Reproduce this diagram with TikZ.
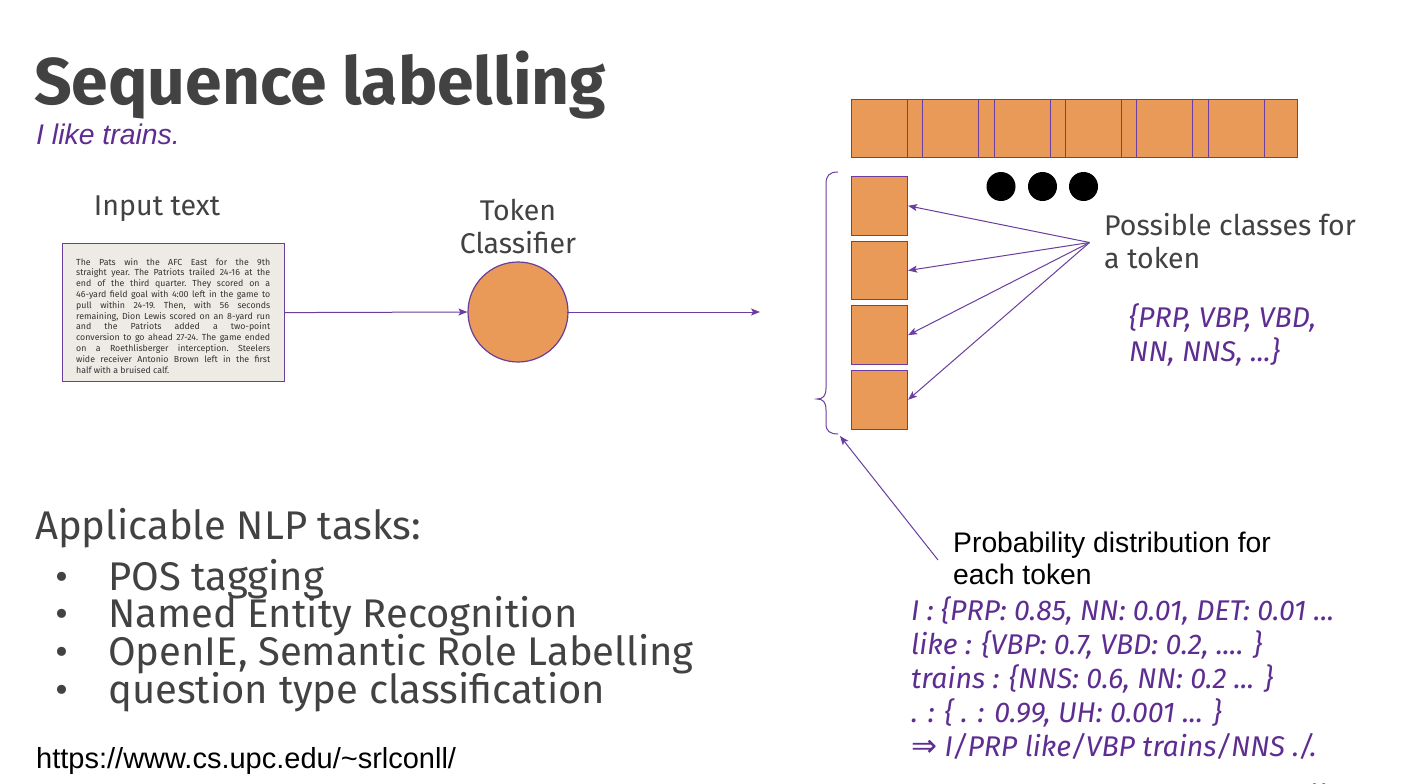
\documentclass[tikz,border=0pt]{standalone}
\usepackage{fontspec}
\setmainfont{Fira Sans}
\newfontfamily\arialf{Liberation Sans}
\newfontfamily\djv{DejaVu Sans}
\usetikzlibrary{arrows.meta}
\definecolor{pur}{HTML}{5E2D91}
\definecolor{ln}{HTML}{6A3D9E}
\definecolor{org}{HTML}{E99A58}
\definecolor{txt}{HTML}{424242}
\definecolor{paper}{HTML}{EEEBE4}
\newcommand{\fsz}[2]{\fontsize{#1}{#2}\selectfont}
\begin{document}
\begin{tikzpicture}[x=1pt,y=-1pt,
  sq/.style={draw=ln, line width=1.1pt, fill=org, minimum width=56pt, minimum height=58pt, inner sep=0pt, anchor=north west},
  arr/.style={draw=ln, line width=1pt, -{Stealth[length=9pt,width=7pt,inset=2pt]}},
  lbl/.style={inner sep=0pt, anchor=base west, text=txt},
  plbl/.style={inner sep=0pt, anchor=base west, text=pur, font=\fsz{28.5}{28.5}\itshape},
  dot/.style={circle, fill=black, minimum size=29pt, inner sep=0pt}]
\useasboundingbox[fill=white] (0,0) rectangle (1406,784);

% title
\node[lbl, font=\fsz{66}{66}\bfseries] (title) at (34,104) {Sequence labelling};
\node[inner sep=0pt, anchor=base west, text=pur, font=\arialf\fsz{28.4}{28.4}\itshape] (sent) at (36,144) {I like trains.};

% input text
\node[inner sep=0pt, anchor=base, text=txt, font=\fsz{28.6}{28.6}] (inlbl) at (157,215) {Input text};
\node[draw=ln, line width=1.2pt, fill=paper, minimum width=222pt, minimum height=138pt,
      inner sep=0pt, anchor=north west] (doc) at (62,243) {};
\node[text width=194pt, inner sep=0pt, anchor=north west, align=justify, text=black!80,
      font=\fsz{8.8}{10.8}] (doctxt) at (76,258)
{\frenchspacing\tolerance=10000\hbadness=10000 The Pats win the AFC East for the 9th\linebreak
straight year. The Patriots trailed 24-16 at the\linebreak
end of the third quarter. They scored on a\linebreak
46-yard field goal with 4:00 left in the game to\linebreak
pull within 24-19. Then, with 56 seconds\linebreak
remaining, Dion Lewis scored on an 8-yard run\linebreak
and the Patriots added a two-point\linebreak
conversion to go ahead 27-24. The game ended\linebreak
on a Roethlisberger interception. Steelers\linebreak
wide receiver Antonio Brown left in the first\linebreak
half with a bruised calf.};

% classifier
\node[inner sep=0pt, anchor=base, text=txt, font=\fsz{28.5}{28.5}] (tok1) at (518,220) {Token};
\node[inner sep=0pt, anchor=base, text=txt, font=\fsz{28.5}{28.5}] (tok2) at (518,253) {Classifier};
\node[circle, draw=ln, line width=1.2pt, fill=org, minimum size=100pt, inner sep=0pt] (clf) at (518,312) {};
\coordinate (out) at (760,312);
\draw[arr] (doc.east) -- (clf.west);
\draw[arr] ([xshift=-2pt]clf.east) -- (out);

% top strip of tokens
\foreach \i in {0,...,5} {
  \node[sq] (b\i) at ({884+71.3*\i},99) {};
}
\foreach \i in {0,...,5} {
  \node[sq] (a\i) at ({851+71.3*\i},99) {};
}
\node[dot] (d1) at (1001,186.5) {};
\node[dot] (d2) at (1042.5,186.5) {};
\node[dot] (d3) at (1083.5,186.5) {};

% vertical tokens
\node[sq, minimum height=58.5pt] (v1) at (851,176) {};
\node[sq, minimum height=58.5pt] (v2) at (851,240.7) {};
\node[sq, minimum height=58.5pt] (v3) at (851,305.3) {};
\node[sq, minimum height=58.5pt] (v4) at (851,370) {};

\coordinate (hub) at (1089.5,242.5);
\draw[arr] (hub) -- (v1.east);
\draw[arr] (hub) -- (v2.east);
\draw[arr] (hub) -- (v3.east);
\draw[arr] (hub) -- (v4.east);

\node[lbl, font=\fsz{28.5}{28.5}] (pc1) at (1104,235) {Possible classes for};
\node[lbl, font=\fsz{28.5}{28.5}] (pc2) at (1104,268) {a token};
\node[plbl] (cls1) at (1129,327) {\{PRP, VBP, VBD,};
\node[plbl] (cls2) at (1129,361) {NN, NNS, ...\}};

% brace
\draw[ln, line width=1pt] (838,172) .. controls (829,172) and (826,176) .. (826,184)
  -- (826,388) .. controls (826,396) and (823,399) .. (817,399)
  .. controls (823,399) and (826,402) .. (826,410)
  -- (826,424) .. controls (826,431) and (830,434) .. (838,434);
\coordinate (bend) at (840,436);
\coordinate (pstart) at (938,560);
\draw[arr] (pstart) -- (bend);

% probability distribution
\node[inner sep=0pt, anchor=base west, text=black, font=\arialf\fsz{28.3}{28.3}] (pd1) at (953,552) {Probability distribution for};
\node[inner sep=0pt, anchor=base west, text=black, font=\arialf\fsz{28.3}{28.3}] (pd2) at (953,584) {each token};
\node[plbl] (l1) at (911,620) {I : \{PRP: 0.85, NN: 0.01, DET: 0.01 ...};
\node[plbl] (l2) at (911,654) {like : \{VBP: 0.7, VBD: 0.2, .... \}};
\node[plbl] (l3) at (911,688) {trains : \{NNS: 0.6, NN: 0.2 ... \}};
\node[plbl] (l4) at (911,722) {. : \{ . : 0.99, UH: 0.001 ... \}};
\node[plbl] (l5) at (911,756) {{\djv\upshape\fsz{31}{31}⇒} I/PRP like/VBP trains/NNS ./.};

% tasks
\node[lbl, font=\fsz{40}{40}] (tasks) at (35,539) {Applicable NLP tasks:};
\foreach \t/\y [count=\k] in {POS tagging/590, Named Entity Recognition/627, {OpenIE, Semantic Role Labelling}/665, question type classification/703} {
  \node[lbl, font=\fsz{40}{40}] (bul\k) at (55,\y) {•};
  \node[lbl, font=\fsz{40}{40}] (task\k) at (108,\y) {\t};
}
\node[inner sep=0pt, anchor=base west, text=black, font=\arialf\fsz{29}{29}] (url) at (36,768) {https://www.cs.upc.edu/\string~srlconll/};
\node[inner sep=0pt, anchor=base, text=txt, font=\fsz{22}{22}] (pg) at (1318,798) {11};
\end{tikzpicture}
\end{document}
